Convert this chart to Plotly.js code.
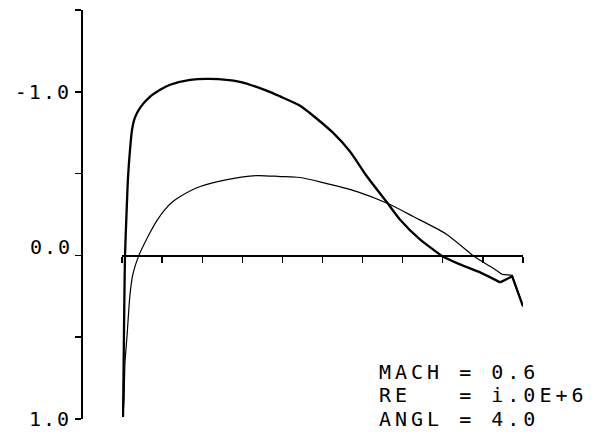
<!DOCTYPE html>
<html>
<head>
<meta charset="utf-8">
<script src="https://cdn.plot.ly/plotly-3.0.1.min.js"></script>
<style>html,body{margin:0;padding:0;background:#fff;}</style>
</head>
<body>
<div id="chart" style="width:606px;height:444px;"></div>
<script>
// Upper surface (thick line): chord fraction vs Cp
const xUpper = [0.0025, 0.0037, 0.005, 0.0062, 0.0075, 0.0112, 0.015, 0.02, 0.025, 0.032, 0.045, 0.07, 0.095, 0.12, 0.17, 0.219, 0.294, 0.362, 0.394, 0.444, 0.469, 0.526, 0.569, 0.611, 0.663, 0.693, 0.743, 0.786, 0.796, 0.843, 0.893, 0.943, 0.973, 1.0];
const yUpper = [0.988, 0.756, 0.451, 0.207, 0.0, -0.25, -0.476, -0.646, -0.768, -0.841, -0.902, -0.970, -1.012, -1.043, -1.073, -1.079, -1.061, -1.006, -0.972, -0.915, -0.869, -0.750, -0.634, -0.482, -0.317, -0.220, -0.098, -0.018, 0.0, 0.055, 0.104, 0.165, 0.128, 0.311];
// Lower surface (thin line)
const xLower = [0.0025, 0.005, 0.0075, 0.0125, 0.02, 0.027, 0.042, 0.056, 0.07, 0.087, 0.107, 0.127, 0.145, 0.195, 0.262, 0.337, 0.394, 0.444, 0.501, 0.586, 0.663, 0.726, 0.810, 0.875, 0.918, 0.948, 0.973, 1.0];
const yLower = [0.988, 0.878, 0.652, 0.494, 0.238, 0.116, 0.0, -0.073, -0.140, -0.213, -0.280, -0.329, -0.360, -0.421, -0.463, -0.488, -0.482, -0.476, -0.445, -0.390, -0.317, -0.238, -0.128, 0.0, 0.067, 0.116, 0.122, 0.311];
// Axes
const yTickVals = [-1.5, -1.0, -0.5, 0.0, 0.5, 1.0];
const yTickLabels = ['', '-1.0', '', '', '', '1.0'];
const zeroLabel = '0.0';
const xTickStart = 0, xTickStep = 0.1;
// Parameter block
const paramLines = ['MACH = 0.6', 'RE   = i.0E+6', 'ANGL = 4.0'];

const NB = '\u00a0';
const sp = (s, px) => '<span style="letter-spacing:' + px + 'px">' + s.replace(/ /g, NB) + '</span>';
const FONT = 'DejaVu Sans Mono, monospace';

// smooth body + sharp trailing-edge tail (last 3 points)
function surface(xs, ys, w) {
  const n = xs.length;
  return [
    {x: xs.slice(0, n - 2), y: ys.slice(0, n - 2), mode: 'lines',
     line: {color: '#000', width: w, shape: 'spline', smoothing: 0.7}, cliponaxis: false, hoverinfo: 'skip'},
    {x: xs.slice(n - 3), y: ys.slice(n - 3), mode: 'lines',
     line: {color: '#000', width: w}, cliponaxis: false, hoverinfo: 'skip'}
  ];
}
const traces = surface(xLower, yLower, 1.2).concat(surface(xUpper, yUpper, 2.3));

const W = 606, ML = 82, MR = 83, PW = W - ML - MR;
const annY = [0.710, 0.851, 0.997];
const annotations = paramLines.map((t, i) => ({
  xref: 'paper', yref: 'y', x: (377 - ML) / PW, y: annY[i],
  xanchor: 'left', yanchor: 'middle', showarrow: false,
  text: sp(t, 4), font: {family: FONT, size: 20, color: '#000'}
}));
annotations.push({
  xref: 'paper', yref: 'y', x: (74 - ML) / PW, y: -0.052,
  xanchor: 'right', yanchor: 'middle', showarrow: false,
  text: sp(zeroLabel, 2), font: {family: FONT, size: 20, color: '#000'}
});

const layout = {
  width: 606, height: 444,
  margin: {l: ML, r: MR, t: 10, b: 25, pad: 0},
  paper_bgcolor: '#fff', plot_bgcolor: 'rgba(0,0,0,0)',
  showlegend: false,
  xaxis: {
    domain: [40 / PW, 1], range: [0, 1], anchor: 'free', position: 0.4,
    showline: true, linecolor: '#000', linewidth: 1.5,
    ticks: 'outside', ticklen: 6, tickwidth: 1.3, tickcolor: '#000',
    tick0: xTickStart, dtick: xTickStep, showticklabels: false,
    showgrid: false, zeroline: false
  },
  yaxis: {
    domain: [0, 1], range: [1.0, -1.5], anchor: 'free', position: 0,
    showline: true, linecolor: '#000', linewidth: 2,
    ticks: 'outside', ticklen: 6, tickwidth: 1.5, tickcolor: '#000',
    tickmode: 'array', tickvals: yTickVals,
    ticktext: yTickLabels.map(s => s ? sp(s, 2) : ''),
    tickfont: {family: FONT, size: 20, color: '#000'},
    showgrid: false, zeroline: false
  },
  annotations: annotations
};

Plotly.newPlot('chart', traces, layout, {staticPlot: true, displayModeBar: false});
</script>
</body>
</html>
